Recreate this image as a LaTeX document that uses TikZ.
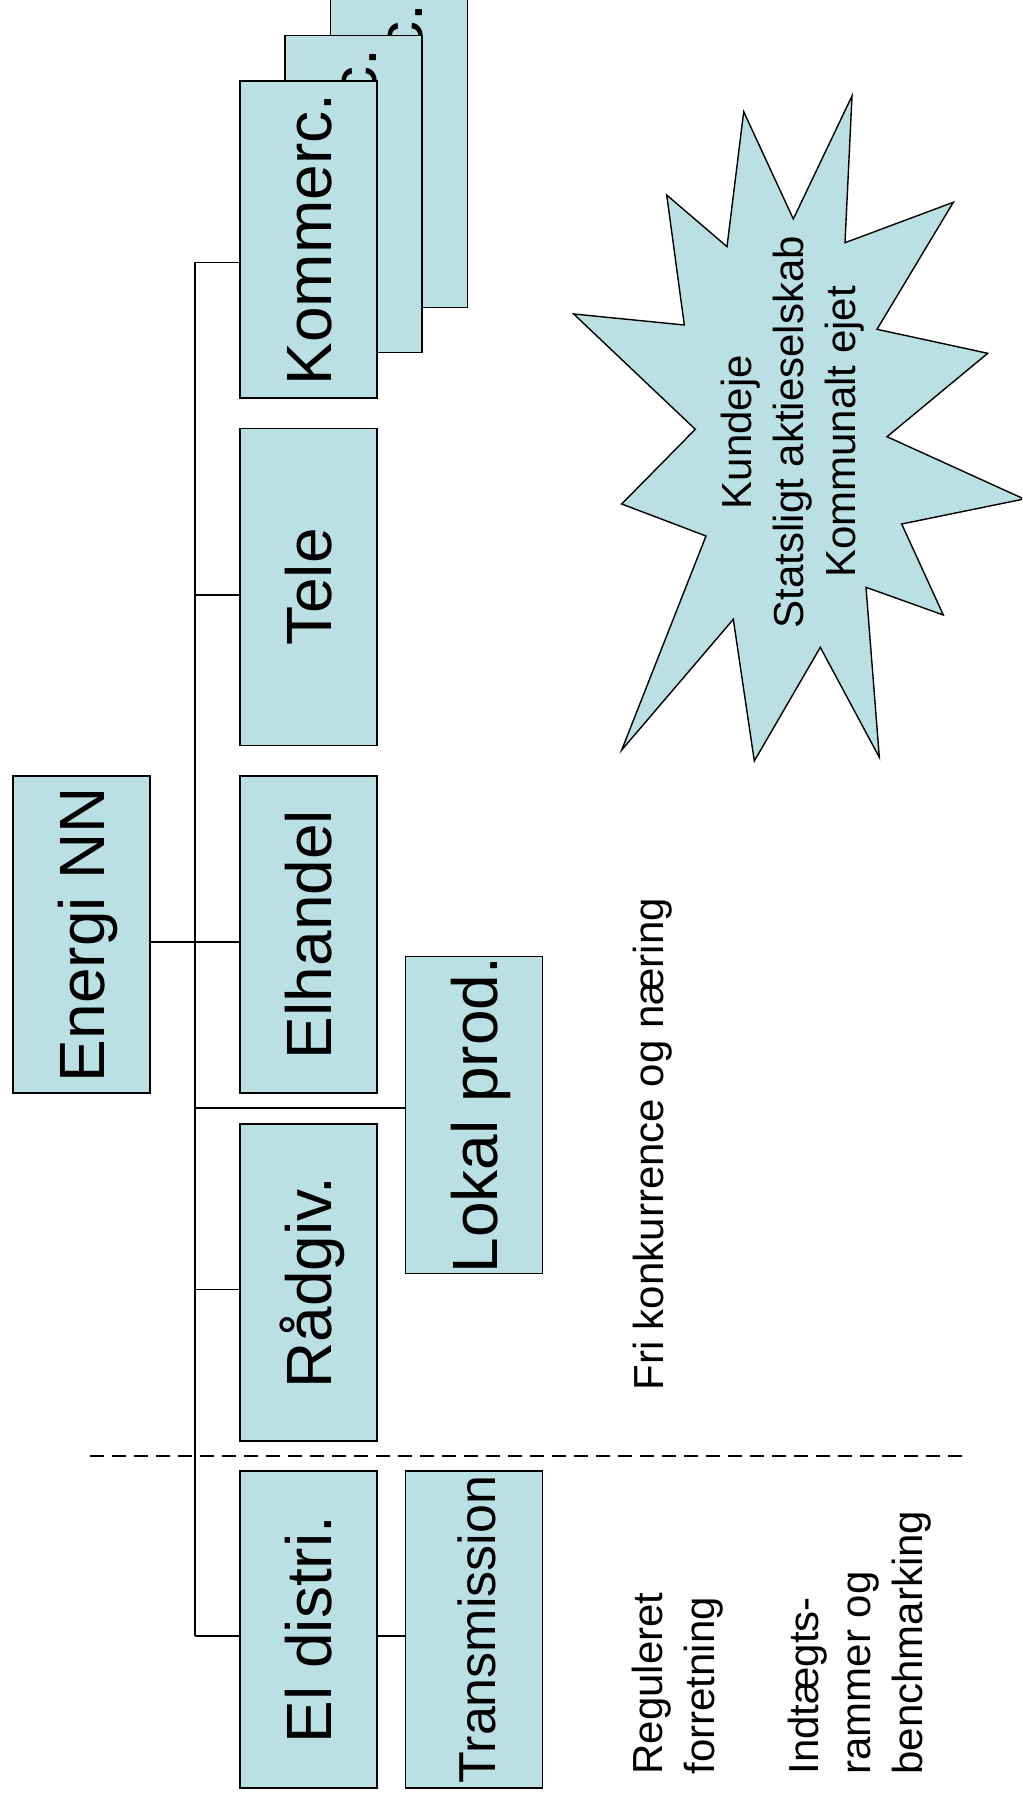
\documentclass[tikz,border=0pt]{standalone}
\usepackage{fontspec}
\setmainfont{Liberation Sans}
\definecolor{unitfill}{HTML}{BBE0E3}
\begin{document}
\begin{tikzpicture}[x=0.5pt,y=-0.5pt,
  unitbox/.style={draw,fill=unitfill,line width=0.7pt,rotate=90,inner sep=0pt,
    minimum width=158.5pt,minimum height=68.5pt,text height=23pt,text depth=0pt,
    font=\fontsize{32}{38}\selectfont},
  link/.style={line width=0.7pt},
  divider/.style={line width=0.7pt,dash pattern=on 7pt off 4pt},
  burst/.style={draw,fill=unitfill,line width=0.7pt,line join=miter},
  note/.style={rotate=90,inner sep=0pt,font=\fontsize{21}{26}\selectfont}]
\useasboundingbox (0,0) rectangle (1022,1802);
\clip (0,0) rectangle (1022,1802);
% stacked copies behind Kommerc.
\node[unitbox] (komm3) at (399,149) {Kommerc.};
\node[unitbox] (komm2) at (353.5,194) {Kommerc.};
\node[unitbox] (kommerc) at (308.5,239.5) {Kommerc.};
\node[unitbox] (tele) at (308.5,587) {Tele};
\node[unitbox] (elhandel) at (308.5,934.5) {Elhandel};
\node[unitbox] (raadgiv) at (308.5,1282.5) {Rådgiv.};
\node[unitbox] (eldistri) at (308.5,1629.5) {El distri.};
\node[unitbox] (energi) at (81.5,934.5) {Energi NN};
\node[unitbox] (lokal) at (474,1115) {Lokal prod.};
\node[unitbox,text height=21pt,font=\fontsize{26}{31}\selectfont] (transm) at (474,1629.5) {Transmission};
% trunk and branches
\coordinate (bustop) at (195,262);
\coordinate (busbot) at (195,1636);
\draw[link] (bustop) -- (busbot);
\draw[link] ([yshift=-3.75pt]energi.south) -- ([yshift=-3.75pt]energi.south -| bustop);
\foreach \n/\s in {kommerc/-11.5,tele/-4,elhandel/-3.75,raadgiv/-3.5,eldistri/-3.25}
  \draw[link] ([yshift=\s pt]\n.north) -- ([yshift=\s pt]\n.north -| bustop);
\draw[link] ([yshift=3.5pt]lokal.north) -- ([yshift=3.5pt]lokal.north -| bustop);
\draw[link] ([yshift=-3.25pt]eldistri.south) -- ([yshift=-3.25pt]transm.north);
% dashed border between regulated and free
\coordinate (divl) at (90,1456);
\coordinate (divr) at (963,1456);
\draw[divider] (divl) -- (divr);
% ownership burst
\draw[burst] plot coordinates {(573.7,314) (684.3,325) (666.7,195) (727,246.7) (743.7,111.7)
  (793.3,219) (852,96) (845,242.7) (953.3,202.3) (877,329.3) (987.7,353.3) (887,436.7)
  (1024,499) (901.7,524) (943.3,615) (866,587.3) (879.3,757.3) (820.3,647.3) (754.3,761)
  (733.3,619.3) (621.7,750) (706,536) (621.7,504) (695.3,429.3)} -- cycle;
\node[note,align=center] (owner) at (793,432) {Kundeje\\Statsligt aktieselskab\\Kommunalt ejet};
\node[note,anchor=base west] (free) at (663,1391) {Fri konkurrence og næring};
\node[note,align=left,anchor=west] (regul) at (781.5,1775) {Reguleret\\forretning\\[26pt]Indtægts-\\rammer og\\benchmarking};
\end{tikzpicture}
\end{document}
